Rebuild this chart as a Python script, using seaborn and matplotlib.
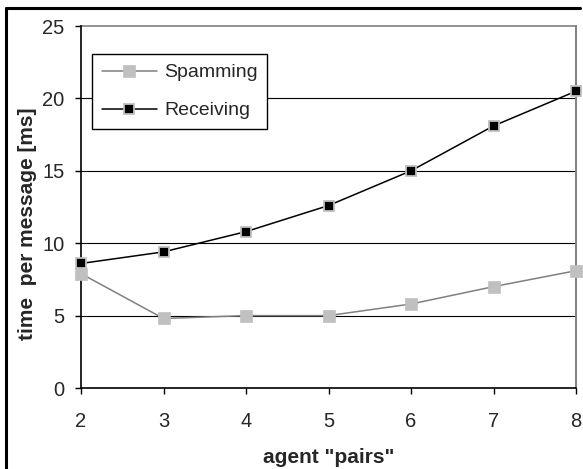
import matplotlib
matplotlib.use("Agg")
import matplotlib.pyplot as plt
from matplotlib.lines import Line2D
import seaborn as sns
import pandas as pd

pairs = [2, 3, 4, 5, 6, 7, 8]
spamming = [7.9, 4.8, 5.0, 5.0, 5.8, 7.0, 8.1]
receiving = [8.6, 9.4, 10.8, 12.6, 15.0, 18.1, 20.5]
series_names = ["Spamming", "Receiving"]
y_ticks = [0, 5, 10, 15, 20, 25]

sns.set_theme(style="white")
plt.rcParams["font.family"] = ["Liberation Sans", "DejaVu Sans"]

W, H = 583, 469
fig = plt.figure(figsize=(W / 100, H / 100), dpi=100)
fig.patch.set_facecolor("white")
ax = fig.add_axes([81 / W, (H - 388) / H, (576 - 81) / W, (388 - 26) / H])
ax.set_facecolor("white")

df = pd.DataFrame({"pairs": pairs, "Spamming": spamming, "Receiving": receiving})

sns.lineplot(data=df, x="pairs", y="Spamming", ax=ax, color="#808080", linewidth=1.1,
             marker="s", markersize=8.5, markerfacecolor="#c0c0c0",
             markeredgecolor="#c0c0c0", markeredgewidth=0.5, clip_on=False,
             label=series_names[0], zorder=4)
sns.lineplot(data=df, x="pairs", y="Receiving", ax=ax, color="black", linewidth=1.1,
             marker="s", markersize=7.5, markerfacecolor="black",
             markeredgecolor="#c0c0c0", markeredgewidth=1.3, clip_on=False,
             label=series_names[1], zorder=5)

ax.set_xlim(2, 8)
ax.set_ylim(0, 25)
ax.set_xticks(pairs)
ax.set_yticks(y_ticks)
for v in y_ticks[1:-1]:
    ax.axhline(v, color="black", linewidth=0.8, zorder=1)
ax.axhline(25, color="#808080", linewidth=1.2, zorder=1, clip_on=False)

for s in ["left", "bottom"]:
    ax.spines[s].set_color("black")
    ax.spines[s].set_linewidth(1.2)
ax.spines["right"].set_color("#808080")
ax.spines["right"].set_linewidth(1.4)
ax.spines["top"].set_visible(False)

ax.tick_params(axis="x", direction="out", length=4, width=1, color="black",
               labelsize=14.5, pad=13, bottom=True)
ax.tick_params(axis="y", direction="out", length=4, width=1, color="black",
               labelsize=14.5, pad=8, left=True)

ax.set_xlabel('agent "pairs"', fontsize=15, fontweight="bold")
ax.set_ylabel("time  per message [ms]", fontsize=15, fontweight="bold")
ax.xaxis.set_label_coords(0.5, -0.165)
ax.yaxis.set_label_coords(-0.088, 0.455)

leg = ax.legend(loc="upper left", bbox_to_anchor=((92 - 81) / 495, (388 - 54) / 362),
                borderaxespad=0, fontsize=14, frameon=True, fancybox=False,
                handlelength=2.85, handletextpad=0.35, borderpad=0.5,
                labelspacing=1.05, framealpha=1)
leg.get_frame().set_edgecolor("black")
leg.get_frame().set_linewidth(1.0)

# outer chart frame (left and top edges)
fig.add_artist(Line2D([6 / W, 6 / W], [0, 1 - 8 / H], color="black", linewidth=2.2,
                      transform=fig.transFigure))
fig.add_artist(Line2D([6 / W, 580 / W], [1 - 8 / H, 1 - 8 / H], color="black",
                      linewidth=2.2, transform=fig.transFigure))

fig.savefig("out.png", dpi=100, facecolor="white")
